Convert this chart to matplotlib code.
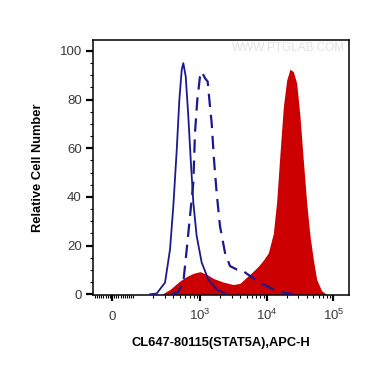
import numpy as np
import matplotlib
matplotlib.use("Agg")
import matplotlib.pyplot as plt
from matplotlib.ticker import FixedLocator

plt.rcParams['font.family'] = ['Liberation Sans', 'DejaVu Sans']
plt.rcParams['mathtext.fontset'] = 'custom'
plt.rcParams['mathtext.rm'] = 'Liberation Sans'
plt.rcParams['mathtext.it'] = 'Liberation Sans:italic'
plt.rcParams['mathtext.bf'] = 'Liberation Sans:bold'

# isotype control (solid blue)
ctrl_x = [178, 224, 299, 355, 398, 448, 490, 532, 562, 611, 668, 726, 794, 891,
          1059, 1331, 1778, 2512]
ctrl_y = [0, 0.3, 4.8, 18.4, 36.2, 59.4, 79.9, 92.2, 95, 89.5, 73.1, 55.3, 37.7,
          24, 13.1, 6.1, 2, 0]

# unstained / blocked (dashed blue)
dash_x = [377, 470, 562, 632, 708, 794, 841, 912, 1000, 1060, 1189, 1304, 1413,
          1496, 1622, 1778, 1995, 2371, 2818, 3548, 4217, 5623, 7943, 12589,
          17783, 25119]
dash_y = [0, 1.0, 4.8, 18.4, 32, 45.8, 66.3, 80, 89.5, 91.5, 88.8, 87.4, 77.2,
          70.4, 55.3, 41.7, 28, 17.1, 11.6, 10.2, 10, 7.5, 4.8, 2, 0.7, 0]

# CL647-80115 stained (red filled)
ab_x = [267, 355, 501, 631, 794, 1000, 1259, 1585, 2239, 3162, 3981, 5012, 6310,
        7499, 8913, 10590, 12589, 14125, 15849, 17783, 19953, 22387, 25119,
        28184, 31623, 35481, 39811, 44668, 50119, 56234, 66834, 79433]
ab_y = [0, 2, 5.5, 7.3, 8.6, 9.3, 8.2, 6.5, 5, 4, 4.5, 7, 9.5, 11.5, 14, 17, 25,
        38, 58, 77, 88, 92.5, 91.5, 86.8, 73, 55, 37.6, 24, 14.3, 6.1, 1.4, 0]

x_major = [0, 1e3, 1e4, 1e5]
x_major_labels = [r'$\mathregular{0}$', r'$\mathregular{10^{3}}$',
                  r'$\mathregular{10^{4}}$', r'$\mathregular{10^{5}}$']

fig = plt.figure(figsize=(3.7, 3.67), dpi=100)
ax = fig.add_axes([93/370, 1-295/367, 256/370, 255/367])

ax.fill_between(ab_x, ab_y, 0, color='#cc0000', linewidth=0, zorder=1)
ax.plot(ctrl_x, ctrl_y, color='#1a1a8f', linewidth=1.3, zorder=3)
ax.plot(dash_x, dash_y, color='#1a1a8f', linewidth=1.6, dashes=(6, 3.5), zorder=3)

ax.set_xscale('symlog', base=10, linthresh=100, linscale=0.288)
ax.set_xlim(-89, 171800)
ax.set_ylim(-0.3, 104.5)

minors = [v for v in range(-80, 0, 10)] + [v for v in range(10, 100, 10)] + [100]
for d in [100, 1000, 10000]:
    minors += [m * d for m in range(2, 10)]
ax.xaxis.set_major_locator(FixedLocator(x_major))
ax.set_xticklabels(x_major_labels)
ax.xaxis.set_minor_locator(FixedLocator(minors))
ax.set_yticks([0, 20, 40, 60, 80, 100])
ax.yaxis.set_minor_locator(FixedLocator(list(range(5, 105, 5))))

ax.tick_params(axis='both', which='major', direction='out', labelsize=9.5,
               labelcolor='#3a3a3a', width=1.6)
ax.tick_params(axis='y', which='major', length=5, pad=3)
ax.tick_params(axis='x', which='major', length=4, pad=14)
ax.tick_params(axis='both', which='minor', direction='out', length=2.5, width=0.8)
for lbl in ax.get_xticklabels():
    lbl.set_verticalalignment('baseline')

for s in ax.spines.values():
    s.set_linewidth(1.1)

ax.set_ylabel('Relative Cell Number', fontsize=9.3, fontweight='bold', labelpad=11)
ax.set_xlabel('CL647-80115(STAT5A),APC-H', fontsize=9.3, fontweight='bold', labelpad=10)

ax.text(0.985, 0.968, 'WWW.PTGLAB.COM', transform=ax.transAxes, ha='right',
        va='center', fontsize=8.5, color='#e2e2e2', zorder=0)

fig.savefig('out.png', dpi=100)
